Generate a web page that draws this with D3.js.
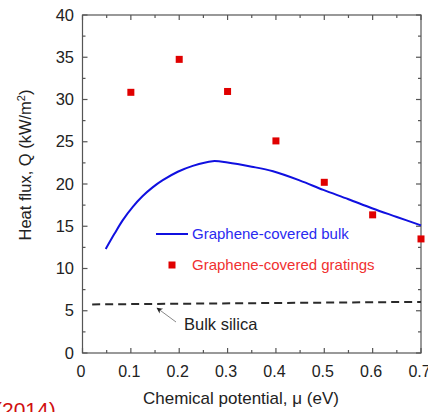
<!DOCTYPE html>
<html>
<head>
<meta charset="utf-8">
<script src="https://cdn.jsdelivr.net/npm/d3@7"></script>
<style>
  body { margin: 0; background: #fff; }
  svg { display: block; font-family: "Liberation Sans", Arial, sans-serif; }
</style>
</head>
<body>
<div id="chart"></div>
<script>
// graphene-covered gratings (squares)
const gratingMu = [0.1, 0.2, 0.3, 0.4, 0.5, 0.6, 0.7];
const gratingQ = [30.85, 34.75, 30.95, 25.1, 20.2, 16.35, 13.5];

// graphene-covered bulk (solid line)
const bulkMu = [0.048, 0.066, 0.083, 0.104, 0.124, 0.145, 0.166, 0.197, 0.228, 0.269, 0.3, 0.35, 0.394, 0.45, 0.498, 0.55, 0.6, 0.65, 0.7];
const bulkQ = [12.3, 14.1, 15.7, 17.3, 18.55, 19.6, 20.45, 21.45, 22.15, 22.7, 22.55, 22.05, 21.5, 20.4, 19.3, 18.2, 17.1, 16.1, 15.1];

// bulk silica (dashed)
const silicaMu = [0.02, 0.7];
const silicaQ = [5.75, 6.05];

const xTicks = [0, 0.1, 0.2, 0.3, 0.4, 0.5, 0.6, 0.7];
const yTicks = [0, 5, 10, 15, 20, 25, 30, 35, 40];

const W = 428, H = 412;
const pL = 82.5, pR = 421, pT = 15, pB = 353;

const x = d3.scaleLinear().domain([0, 0.7]).range([pL, pR]);
const y = d3.scaleLinear().domain([0, 40]).range([pB, pT]);

const svg = d3.select("#chart").append("svg")
  .attr("width", W).attr("height", H);

const axisColor = "#555";

// frame
svg.append("rect")
  .attr("x", pL).attr("y", pT)
  .attr("width", pR - pL).attr("height", pB - pT)
  .attr("fill", "none").attr("stroke", axisColor).attr("stroke-width", 1.2);

// ticks: inside, major + minor on all four sides
const xMinor = d3.range(0.05, 0.7, 0.1);
const yMinor = d3.range(2.5, 40, 5);
const tickG = svg.append("g").attr("stroke", axisColor).attr("stroke-width", 1.2);
xTicks.forEach(v => {
  tickG.append("line").attr("x1", x(v)).attr("x2", x(v)).attr("y1", pB).attr("y2", pB - 5);
  tickG.append("line").attr("x1", x(v)).attr("x2", x(v)).attr("y1", pT).attr("y2", pT + 5);
});
xMinor.forEach(v => {
  tickG.append("line").attr("x1", x(v)).attr("x2", x(v)).attr("y1", pB).attr("y2", pB - 3);
  tickG.append("line").attr("x1", x(v)).attr("x2", x(v)).attr("y1", pT).attr("y2", pT + 3);
});
yTicks.forEach(v => {
  tickG.append("line").attr("y1", y(v)).attr("y2", y(v)).attr("x1", pL).attr("x2", pL + 5);
  tickG.append("line").attr("y1", y(v)).attr("y2", y(v)).attr("x1", pR).attr("x2", pR - 5);
});
yMinor.forEach(v => {
  tickG.append("line").attr("y1", y(v)).attr("y2", y(v)).attr("x1", pL).attr("x2", pL + 3);
  tickG.append("line").attr("y1", y(v)).attr("y2", y(v)).attr("x1", pR).attr("x2", pR - 3);
});

// tick labels
svg.append("g").selectAll("text").data(xTicks).join("text")
  .attr("x", d => x(d) - 1.5).attr("y", pB + 24)
  .attr("text-anchor", "middle").attr("font-size", 16).attr("fill", "#222")
  .text(d => d === 0 ? "0" : d3.format(".1f")(d));
svg.append("g").selectAll("text").data(yTicks).join("text")
  .attr("x", pL - 8.5).attr("y", d => y(d) + 5.5)
  .attr("text-anchor", "end").attr("font-size", 16.5).attr("fill", "#222")
  .text(d => d);

// axis titles
svg.append("text")
  .attr("x", 143).attr("y", 404)
  .attr("font-size", 17).attr("fill", "#222")
  .text("Chemical potential, μ (eV)");
const yt = svg.append("text")
  .attr("transform", "translate(31,165) rotate(-90)")
  .attr("text-anchor", "middle").attr("font-size", 16.5).attr("fill", "#222");
yt.append("tspan").text("Heat flux, Q (kW/m");
yt.append("tspan").attr("font-size", 11).attr("dy", -6).text("2");
yt.append("tspan").attr("dy", 6).text(")");

// dashed bulk silica
const line = d3.line().x(d => x(d[0])).y(d => y(d[1]));
svg.append("path")
  .datum(d3.zip(silicaMu, silicaQ))
  .attr("d", line)
  .attr("fill", "none").attr("stroke", "#2a2a2a").attr("stroke-width", 2)
  .attr("stroke-dasharray", "8,5");

// blue curve
svg.append("path")
  .datum(d3.zip(bulkMu, bulkQ))
  .attr("d", line.curve(d3.curveCatmullRom.alpha(0.5)))
  .attr("fill", "none").attr("stroke", "#1010e0").attr("stroke-width", 2);

// red squares
const s = 7;
svg.append("g").selectAll("rect").data(d3.zip(gratingMu, gratingQ)).join("rect")
  .attr("x", d => x(d[0]) - s / 2).attr("y", d => y(d[1]) - s / 2)
  .attr("width", s).attr("height", s).attr("fill", "#e00000");

// legend
svg.append("line").attr("x1", 156).attr("x2", 188).attr("y1", 234).attr("y2", 234)
  .attr("stroke", "#1010e0").attr("stroke-width", 2);
svg.append("text").attr("x", 192).attr("y", 239).attr("font-size", 15)
  .attr("fill", "#2a2af0").text("Graphene-covered bulk");
svg.append("rect").attr("x", 172 - s / 2).attr("y", 265 - s / 2)
  .attr("width", s).attr("height", s).attr("fill", "#e00000");
svg.append("text").attr("x", 192).attr("y", 270).attr("font-size", 15)
  .attr("fill", "#f03030").text("Graphene-covered gratings");

// annotation
svg.append("defs").append("marker")
  .attr("id", "ah").attr("viewBox", "0 0 10 10").attr("refX", 9).attr("refY", 5)
  .attr("markerWidth", 9).attr("markerHeight", 6).attr("orient", "auto")
  .attr("markerUnits", "userSpaceOnUse")
  .append("path").attr("d", "M0,0 L10,5 L0,10 L3,5 Z").attr("fill", "#222");
svg.append("line").attr("x1", 176).attr("y1", 322).attr("x2", 157).attr("y2", 308)
  .attr("stroke", "#888").attr("stroke-width", 1).attr("marker-end", "url(#ah)");
svg.append("text").attr("x", 184).attr("y", 330).attr("font-size", 16.5)
  .attr("fill", "#222").text("Bulk silica");

// cropped citation at bottom-left
svg.append("text").attr("x", -5).attr("y", 417).attr("font-size", 21)
  .attr("fill", "#d01010").text("(2014)");
</script>
</body>
</html>
